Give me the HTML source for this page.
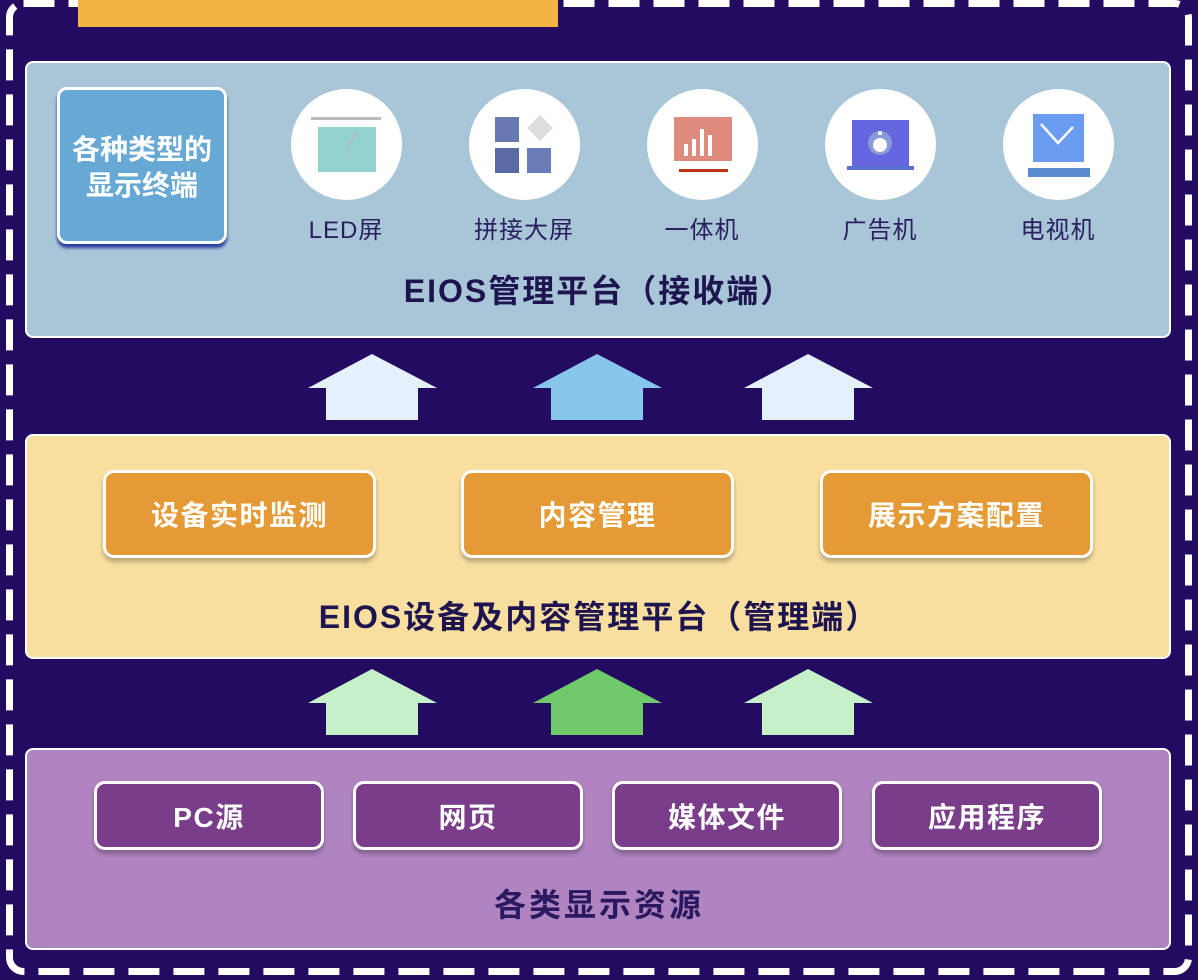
<!DOCTYPE html>
<html><head><meta charset="utf-8"><style>
*{margin:0;padding:0;box-sizing:border-box}
body{width:1198px;height:980px;background:#230b62;position:relative;overflow:hidden;font-family:"Liberation Sans","Noto Sans CJK SC",sans-serif}
.a{position:absolute}
.panel{position:absolute;left:25px;width:1146px;border:2px solid #fff;border-radius:8px}
.t{position:absolute;left:0;width:100%;text-align:center;font-weight:bold;color:#1e1450;font-size:32px;letter-spacing:2px}
.btn{position:absolute;border:3px solid #fff;border-radius:11px;color:#fff;font-weight:bold;font-size:28px;letter-spacing:1.5px;display:flex;align-items:center;justify-content:center;box-shadow:0 4px 4px rgba(0,0,0,.25)}
.o{background:#e59a35;top:470px;height:88px;width:273px}
.p{background:#7a3d8a;top:781px;height:69px;width:230px}
.c{position:absolute;top:89px;width:111px;height:111px;border-radius:50%;background:#fff}
.lb{position:absolute;top:210px;width:160px;text-align:center;font-size:24px;letter-spacing:1px;color:#2a2060}
</style></head><body>
<svg class="a" style="left:0;top:0" width="1198" height="980">
<rect x="9.5" y="3.5" width="1179" height="968" rx="14" fill="none" stroke="#fff" stroke-width="7" stroke-dasharray="31 14"/>
<rect x="78" y="0" width="480" height="27" fill="#f2b544"/>
<g fill="#e3f1fb"><polygon points="372,354 437,388 418,388 418,420 326,420 326,388 308,388"/><polygon points="808,354 873,388 854,388 854,420 762,420 762,388 744,388"/></g>
<polygon fill="#88c6ec" points="597,354 662,388 643,388 643,420 551,420 551,388 533,388"/>
<g fill="#c6f0c8"><polygon points="372,669 437,703 418,703 418,735 326,735 326,703 308,703"/><polygon points="808,669 873,703 854,703 854,735 762,735 762,703 744,703"/></g>
<polygon fill="#6fcb6a" points="597,669 662,703 643,703 643,735 551,735 551,703 533,703"/>
</svg>

<div class="panel" style="top:61px;height:277px;background:#a9c6d8">
</div>
<div class="a" style="left:57px;top:87px;width:170px;height:157px;background:#68a8d4;border:3px solid #fff;border-radius:10px;box-shadow:0 4px 3px #2a3e9a;color:#fff;font-weight:bold;font-size:28px;line-height:36px;text-align:center;padding-top:42px">各种类型的<br>显示终端</div>

<div class="c" style="left:291px"><svg width="111" height="111"><rect x="20" y="28" width="70" height="3" fill="#bbb"/><rect x="27" y="38" width="58" height="45" fill="#94d2d2"/><line x1="65" y1="44" x2="58" y2="56" stroke="#bbb" stroke-width="2"/><line x1="58" y1="60" x2="55" y2="65" stroke="#bbb" stroke-width="2"/></svg></div>
<div class="c" style="left:469px"><svg width="111" height="111"><rect x="26" y="28" width="24" height="25" fill="#6878b0"/><rect x="26" y="59" width="24" height="25" fill="#5a6aa4"/><rect x="58" y="59" width="24" height="25" fill="#6a7db8"/><polygon points="71,26 84,39 71,52 58,39" fill="#ddd"/></svg></div>
<div class="c" style="left:647px"><svg width="111" height="111"><rect x="27" y="28" width="58" height="44" fill="#de8a7c"/><g fill="#fff"><rect x="37" y="55" width="4" height="12"/><rect x="45" y="50" width="4" height="17"/><rect x="53" y="40" width="4" height="27"/><rect x="61" y="46" width="4" height="21"/></g><rect x="32" y="80" width="49" height="3" fill="#c0301a"/></svg></div>
<div class="c" style="left:825px"><svg width="111" height="111"><rect x="27" y="31" width="57" height="46" fill="#6466e0"/><circle cx="55" cy="54" r="12" fill="#8a9ad8"/><circle cx="55" cy="56" r="7" fill="#fff"/><circle cx="55" cy="44" r="2" fill="#fff"/><rect x="22" y="77" width="67" height="4" fill="#5a70d0"/></svg></div>
<div class="c" style="left:1003px"><svg width="111" height="111"><rect x="30" y="25" width="51" height="48" fill="#6a9cf0"/><polyline points="38,35 55,54 70,38" fill="none" stroke="#fff" stroke-width="2.5"/><rect x="25" y="79" width="62" height="9" fill="#5a8ad0"/></svg></div>

<div class="lb" style="left:266px">LED屏</div>
<div class="lb" style="left:444px">拼接大屏</div>
<div class="lb" style="left:622px">一体机</div>
<div class="lb" style="left:800px">广告机</div>
<div class="lb" style="left:978px">电视机</div>
<div class="t" style="top:266px">EIOS管理平台（接收端）</div>

<div class="panel" style="top:434px;height:225px;background:#f8dfa0"></div>
<div class="btn o" style="left:103px">设备实时监测</div>
<div class="btn o" style="left:461px">内容管理</div>
<div class="btn o" style="left:820px">展示方案配置</div>
<div class="t" style="top:592px">EIOS设备及内容管理平台（管理端）</div>

<div class="panel" style="top:748px;height:202px;background:#b084c0"></div>
<div class="btn p" style="left:94px">PC源</div>
<div class="btn p" style="left:353px">网页</div>
<div class="btn p" style="left:612px">媒体文件</div>
<div class="btn p" style="left:872px">应用程序</div>
<div class="t" style="top:880px;color:#2a1860;letter-spacing:3px">各类显示资源</div>
</body></html>
